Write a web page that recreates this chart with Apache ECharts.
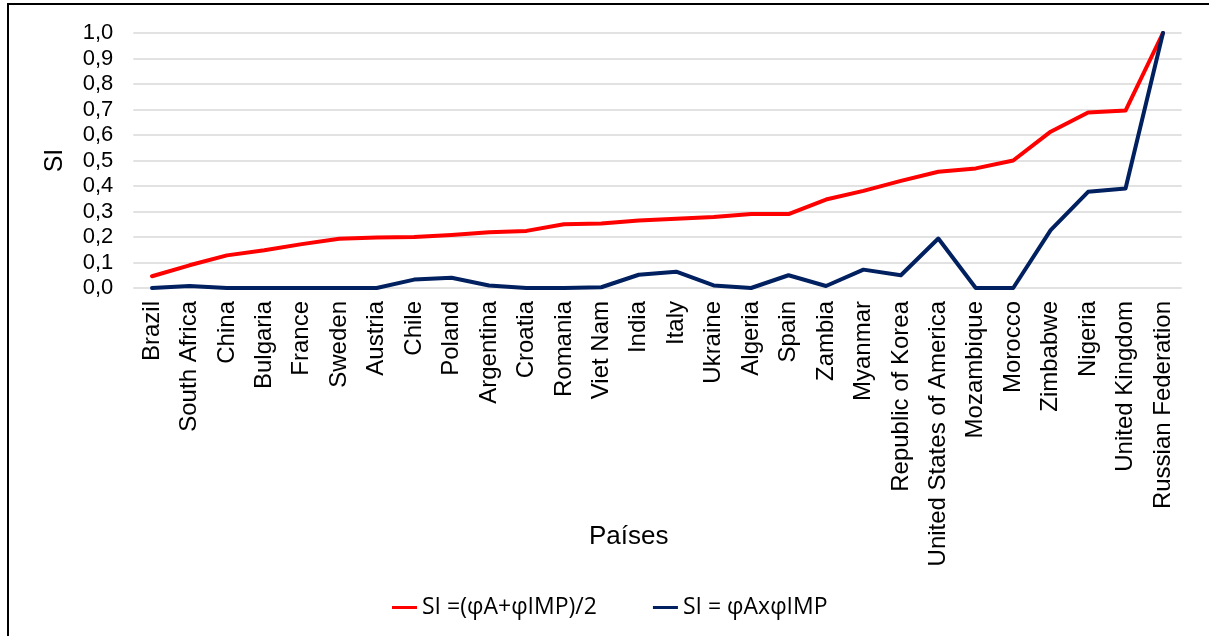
<!DOCTYPE html>
<html>
<head>
<meta charset="utf-8">
<script src="https://cdn.jsdelivr.net/npm/echarts@6/dist/echarts.min.js"></script>
<style>
html,body{margin:0;padding:0;background:#fff;}
#chart{width:1209px;height:636px;}
</style>
</head>
<body>
<div id="chart"></div>
<script>
var categories = ["Brazil","South Africa","China","Bulgaria","France","Sweden","Austria","Chile","Poland","Argentina","Croatia","Romania","Viet Nam","India","Italy","Ukraine","Algeria","Spain","Zambia","Myanmar","Republic of Korea","United States of America","Mozambique","Morocco","Zimbabwe","Nigeria","United Kingdom","Russian Federation"];
var siMean = [0.046,0.089,0.128,0.148,0.172,0.193,0.198,0.200,0.208,0.219,0.224,0.250,0.253,0.265,0.272,0.278,0.290,0.290,0.347,0.381,0.420,0.456,0.469,0.500,0.613,0.688,0.696,1.000];
var siProd = [0.000,0.008,0.000,0.000,0.000,0.000,0.000,0.033,0.040,0.010,0.000,0.000,0.003,0.052,0.064,0.010,0.000,0.050,0.008,0.072,0.050,0.194,0.000,0.000,0.227,0.377,0.390,1.000];
var seriesNames = ["SI =(\u03c6A+\u03c6IMP)/2", "SI = \u03c6Ax\u03c6IMP"];
var xAxisTitle = "Pa\u00edses";
var yAxisTitle = "SI";

var FONT = "'Liberation Sans', Arial, sans-serif";
var chart = echarts.init(document.getElementById('chart'), null, {renderer:'canvas'});
chart.setOption({
  animation: false,
  backgroundColor: '#ffffff',
  graphic: [
    {type:'rect', shape:{x:8, y:4, width:1400, height:800}, style:{fill:'none', stroke:'#000', lineWidth:2}, z:100},
    {type:'text', left:589, top:524, style:{text:xAxisTitle, font:"26px " + FONT, fill:'#000'}}
  ],
  grid: {left:133.3, right:27.3, top:33, bottom:348, containLabel:false},
  legend: {
    left: 387, top: 591,
    itemWidth: 25, itemHeight: 3, itemGap: 56,
    icon: 'rect',
    textStyle: {fontFamily:"'Open Sans', sans-serif", fontSize:23, color:'#000'},
    data: seriesNames
  },
  xAxis: {
    type:'category', data: categories, boundaryGap:true,
    axisLine:{show:false}, axisTick:{show:false},
    axisLabel:{rotate:90, interval:0, margin:13, fontFamily:FONT, fontSize:24, color:'#000'}
  },
  yAxis: {
    type:'value', min:0, max:1, interval:0.1,
    name: yAxisTitle, nameLocation:'middle', nameRotate:90, nameGap:66,
    nameTextStyle:{fontFamily:FONT, fontSize:25, color:'#000'},
    axisLine:{show:false}, axisTick:{show:false},
    axisLabel:{margin:20, fontFamily:FONT, fontSize:22, color:'#000', formatter:function(v){return v.toFixed(1).replace('.', ',');}},
    splitLine:{lineStyle:{color:'#d9d9d9', width:1.5}}
  },
  series: [
    {name:seriesNames[0], type:'line', data:siMean, symbol:'none', lineStyle:{color:'#ff0000', width:4, cap:'round', join:'round'}, itemStyle:{color:'#ff0000'}},
    {name:seriesNames[1], type:'line', data:siProd, symbol:'none', lineStyle:{color:'#002060', width:4, cap:'round', join:'round'}, itemStyle:{color:'#002060'}}
  ]
});
</script>
</body>
</html>
